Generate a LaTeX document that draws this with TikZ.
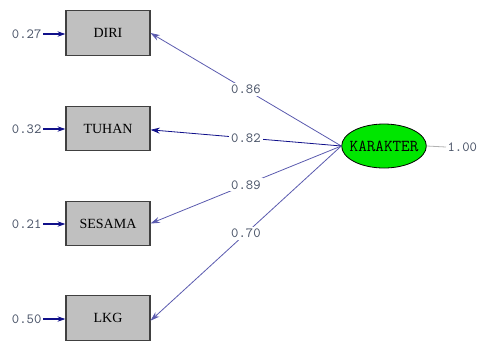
\documentclass[tikz,border=0pt]{standalone}
\usepackage{fontspec}
\setmainfont{Liberation Serif}
\usetikzlibrary{arrows.meta,shapes.geometric}
\definecolor{boxgray}{HTML}{C0C0C0}
\definecolor{boxline}{HTML}{404040}
\definecolor{numcol}{HTML}{4A5468}
\definecolor{navy}{HTML}{10108A}
\definecolor{lightnavy}{HTML}{5A5AAE}
\definecolor{latgreen}{HTML}{00E600}
\tikzset{
  obs/.style={draw=boxline, fill=boxgray, line width=0.8pt, minimum width=63pt, minimum height=33.5pt, inner sep=0pt, font=\fontsize{10.5}{12}\selectfont},
  lat/.style={ellipse, draw=black, fill=latgreen, line width=0.6pt, minimum width=63.5pt, minimum height=33pt, inner sep=0pt, font=\ttfamily\fontsize{12.5}{13}\selectfont},
  num/.style={text=numcol, font=\ttfamily\fontsize{10.5}{12}\selectfont, inner sep=1pt},
  pathlbl/.style={num, fill=white, inner sep=1.5pt},
  load/.style={-{Stealth[length=7pt,width=4.5pt]}, line width=0.6pt},
  err/.style={-{Stealth[length=6pt,width=4pt]}, navy, line width=0.8pt}
}
\begin{document}
\begin{tikzpicture}[x=0.75pt,y=-0.75pt]
\useasboundingbox (0,0) rectangle (478,340);
\node[obs] (diri) at (108,33) {DIRI};
\node[obs] (tuhan) at (108,128.5) {TUHAN};
\node[obs] (sesama) at (108,223.5) {SESAMA};
\node[obs] (lkg) at (108,318) {LKG};
\node[lat] (kar) at (384,146) {\makebox[0pt]{KARAKTER}};

\node[num, anchor=east] (e1) at (43,34) {0.27};
\node[num, anchor=east] (e2) at (43,129) {0.32};
\node[num, anchor=east] (e3) at (43,224) {0.21};
\node[num, anchor=east] (e4) at (43,319) {0.50};
\draw[err] (e1.east) -- (diri.west |- e1.east);
\draw[err] (e2.east) -- (tuhan.west |- e2.east);
\draw[err] (e3.east) -- (sesama.west |- e3.east);
\draw[err] (e4.east) -- (lkg.west |- e4.east);

\node[num, anchor=west] (v) at (446,147) {1.00};
\draw[gray!60, line width=0.6pt] (kar.east) -- (v.west);

\draw[load, lightnavy] (kar.west) -- node[pathlbl] {0.86} (diri.east);
\draw[load, navy] (kar.west) -- node[pathlbl] {0.82} ([yshift=-1pt]tuhan.east);
\draw[load, lightnavy] (kar.west) -- node[pathlbl] {0.89} (sesama.east);
\draw[load, lightnavy] (kar.west) -- node[pathlbl] {0.70} ([yshift=-2pt]lkg.east);
\end{tikzpicture}
\end{document}
